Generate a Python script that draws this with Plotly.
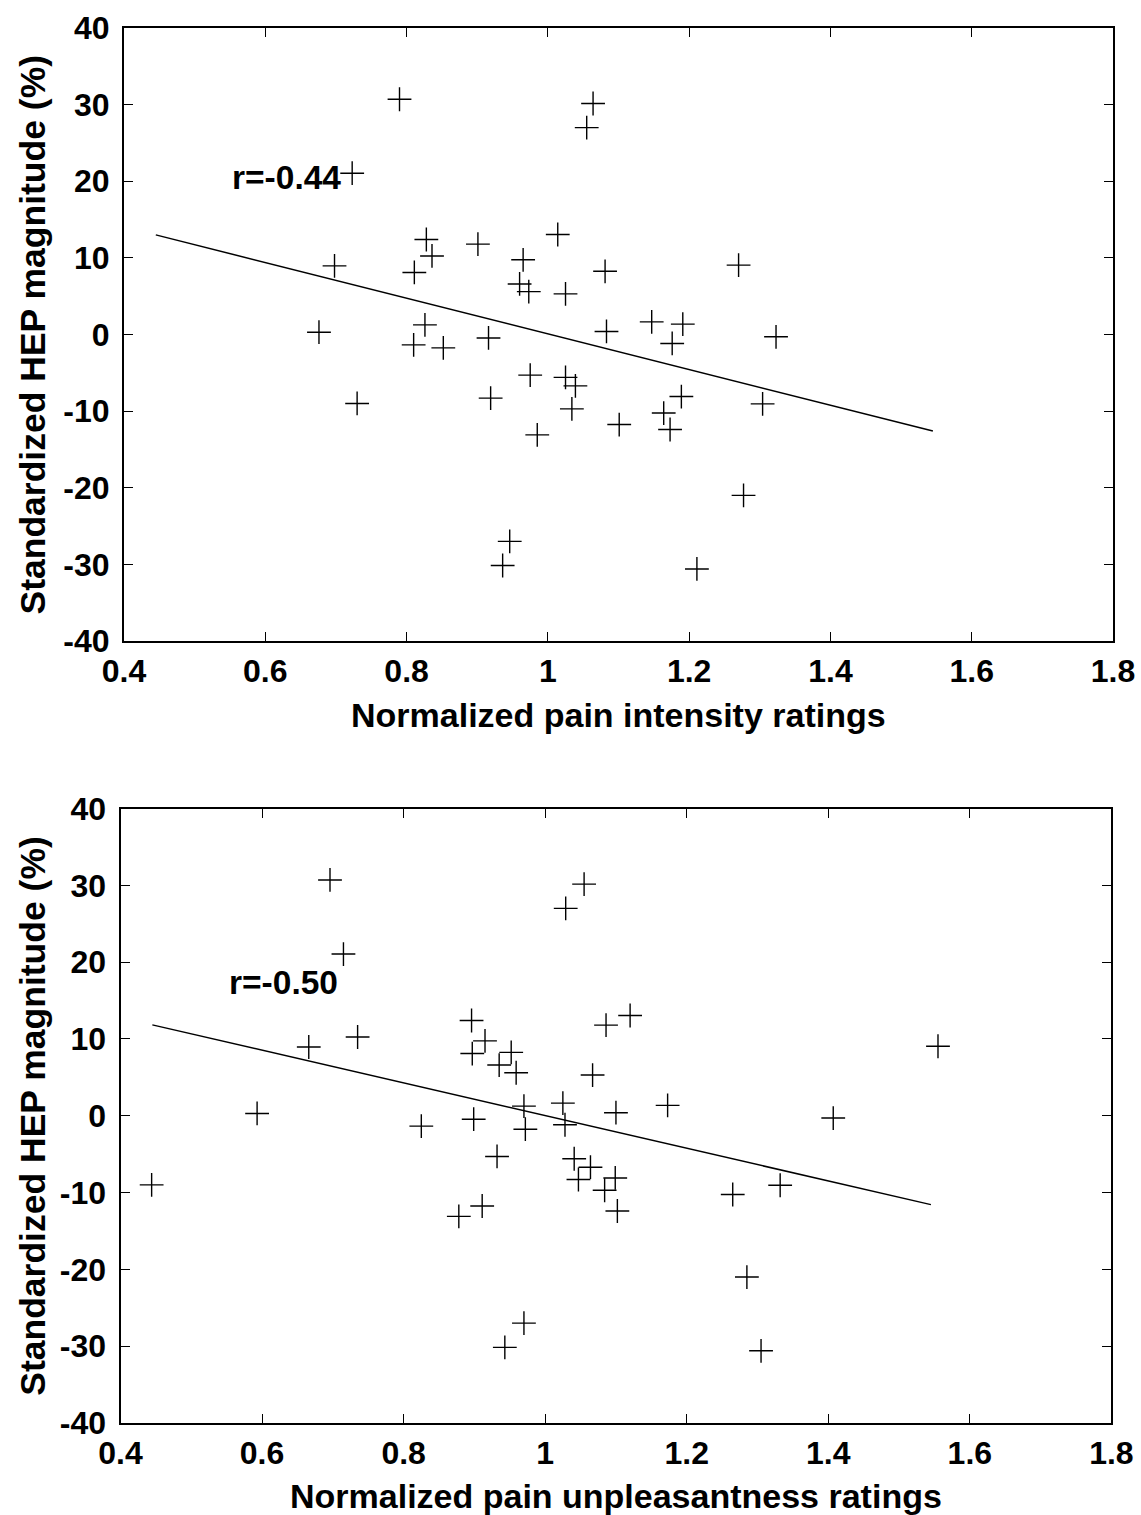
import plotly.graph_objects as go

# Standardized HEP magnitude (%) per subject, shared by both panels
hep_magnitude = [
    30.7, 30.15, 27.0, 21.05, 12.4, 11.8, 13.05, 10.25, 8.95, 8.1,
    9.75, 8.25, 9.05, 6.6, 5.6, 5.3, 0.3, 1.25, -1.35, -1.75,
    -0.45, 0.4, -9.0, -5.3, -8.3, -5.6, -6.7, -9.7, -13.1, -11.75,
    -27.0, -30.15, 1.65, 1.35, -1.17, -0.3, -8.1, -9.05, -10.25, -12.4,
    -21.0, -30.6,
]

# Normalized pain intensity ratings (same subject order)
intensity = [
    0.790, 1.064, 1.055, 0.723, 0.828, 0.901, 1.014, 0.836, 0.698, 0.811,
    0.965, 1.081, 1.270, 0.960, 0.973, 1.025, 0.676, 0.826, 0.810, 0.852,
    0.916, 1.083, 0.730, 0.975, 0.919, 1.025, 1.039, 1.034, 0.985, 1.101,
    0.946, 0.936, 1.147, 1.191, 1.176, 1.323, 1.189, 1.304, 1.164, 1.173,
    1.277, 1.211,
]

# Normalized pain unpleasantness ratings (same subject order)
unpleasantness = [
    0.696, 1.055, 1.029, 0.715, 0.896, 1.086, 1.120, 0.735, 0.666, 0.897,
    0.915, 0.952, 1.555, 0.935, 0.959, 1.067, 0.593, 0.970, 0.825, 0.972,
    0.899, 1.100, 0.444, 0.932, 1.047, 1.041, 1.064, 1.084, 0.878, 0.911,
    0.970, 0.943, 1.025, 1.173, 1.028, 1.407, 1.099, 1.332, 1.265, 1.102,
    1.285, 1.305,
]

# Least-squares lines drawn over a common rating span
fit_x = [0.445, 1.545]
fit_intensity = [13.0, -12.6]
fit_unpleasantness = [11.83, -11.57]

r_labels = ["r=-0.44", "r=-0.50"]
r_label_pos = [(0.55, 20.45), (0.55, 17.4)]

x_titles = ["Normalized pain intensity ratings", "Normalized pain unpleasantness ratings"]
y_title = "Standardized HEP magnitude (%)"

x_ticks = [0.4, 0.6, 0.8, 1.0, 1.2, 1.4, 1.6, 1.8]
x_ticktext = ["0.4", "0.6", "0.8", "1", "1.2", "1.4", "1.6", "1.8"]
y_ticks = [-40, -30, -20, -10, 0, 10, 20, 30, 40]
y_ticktext = ["-40", "-30", "-20", "-10", "0", "10", "20", "30", "40"]

W, H = 1141, 1515
FONT = "Liberation Sans, Arial, Helvetica, sans-serif"

# pixel boxes of the two panels: (left, right, top, bottom)
panels = [(124, 1113, 28, 641), (120.5, 1111.4, 808.5, 1423)]

fig = go.Figure()

panel_data = [(intensity, fit_intensity), (unpleasantness, fit_unpleasantness)]
for i, (xs, fy) in enumerate(panel_data):
    ax = "" if i == 0 else "2"
    fig.add_trace(go.Scatter(
        x=xs, y=hep_magnitude, mode="markers",
        marker=dict(symbol="cross-thin", size=17, color="black",
                    line=dict(color="black", width=1.4)),
        xaxis="x" + ax, yaxis="y" + ax, showlegend=False, hoverinfo="x+y",
    ))
    fig.add_trace(go.Scatter(
        x=fit_x, y=fy, mode="lines",
        line=dict(color="black", width=1.5),
        xaxis="x" + ax, yaxis="y" + ax, showlegend=False, hoverinfo="skip",
    ))

axis_common = dict(
    showgrid=False, zeroline=False, showline=True, linecolor="black",
    linewidth=2, mirror="ticks", ticks="inside", ticklen=9, tickwidth=1.2,
    tickcolor="black", automargin=False,
    tickfont=dict(family=FONT, size=32, color="black", weight="bold"),
)

layout = dict(
    width=W, height=H, margin=dict(l=0, r=0, t=0, b=0, autoexpand=False),
    paper_bgcolor="white", plot_bgcolor="white", annotations=[],
)

for i, (l, r, t, b) in enumerate(panels):
    ax = "" if i == 0 else "2"
    xd = [l / W, r / W]
    yd = [1 - b / H, 1 - t / H]
    layout["xaxis" + ax] = dict(
        axis_common, domain=xd, range=[0.4, 1.8], tickvals=x_ticks,
        ticktext=x_ticktext, anchor="y" + ax, ticklabelstandoff=1,
    )
    layout["yaxis" + ax] = dict(
        axis_common, domain=yd, range=[-40, 40], tickvals=y_ticks,
        ticktext=y_ticktext, anchor="x" + ax, ticklabelstandoff=6,
    )
    # x-axis title
    title_y = [714.8, 1496.4][i]
    layout["annotations"].append(dict(
        text=x_titles[i], xref="paper", yref="paper",
        x=(l + r) / 2 / W, y=1 - title_y / H, xanchor="center", yanchor="middle",
        showarrow=False,
        font=dict(family=FONT, size=34, color="black", weight="bold"),
    ))
    # y-axis title
    layout["annotations"].append(dict(
        text=y_title, xref="paper", yref="paper", textangle=-90,
        x=33 / W, y=1 - (t + b) / 2 / H, xanchor="center", yanchor="middle",
        showarrow=False,
        font=dict(family=FONT, size=35.5, color="black", weight="bold"),
    ))
    # correlation label
    rx, ry = r_label_pos[i]
    layout["annotations"].append(dict(
        text=r_labels[i], xref="x" + ax, yref="y" + ax, x=rx, y=ry,
        xanchor="left", yanchor="middle", showarrow=False,
        font=dict(family=FONT, size=33.5, color="black", weight="bold"),
    ))

fig.update_layout(**layout)
fig.write_html("out.html")
